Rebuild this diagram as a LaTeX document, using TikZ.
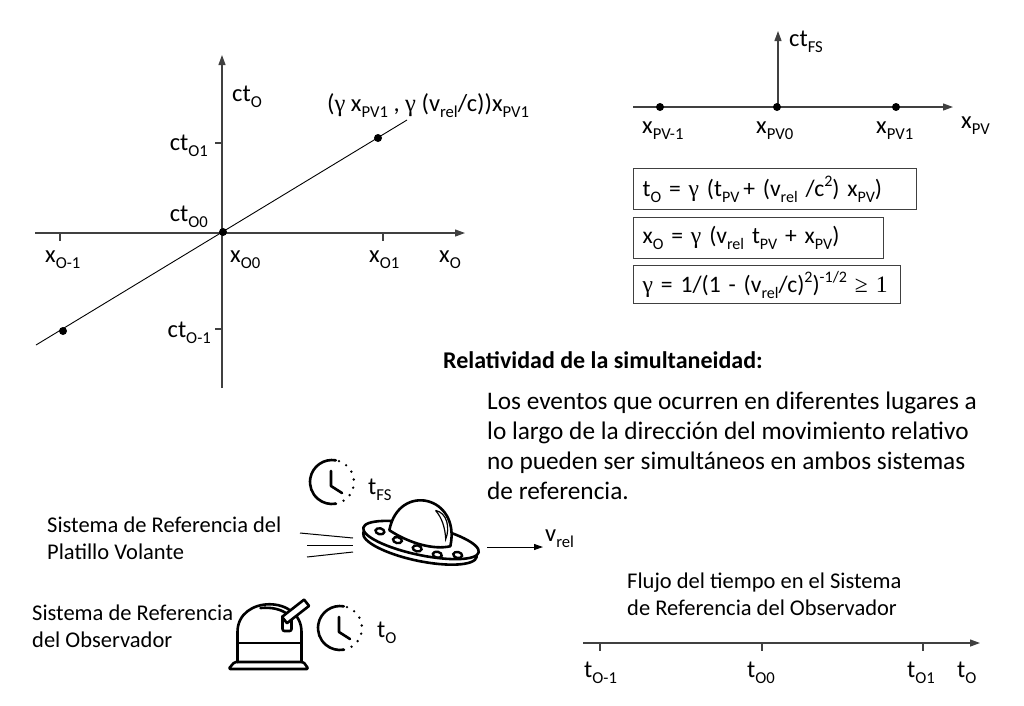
\documentclass[tikz,border=0pt]{standalone}
\usepackage{fontspec}
\setmainfont{Carlito}
\newfontfamily\serifgr{Liberation Serif}
\usepackage{graphicx}
\usetikzlibrary{arrows.meta}
\newcommand\sbs[1]{\raisebox{-0.26em}{\scalebox{0.68}{#1}}}
\newcommand\sps[1]{\raisebox{0.42em}{\scalebox{0.68}{#1}}}
\newcommand\gam{{\serifgr γ}}
\begin{document}
\begin{tikzpicture}[x=1pt,y=-1pt,
  lbl/.style={font=\fontsize{22.5}{26.5}\selectfont, inner sep=0pt},
  axlbl/.style={font=\fontsize{24.5}{28}\selectfont, inner sep=0pt},
  axisln/.style={draw=black!75, line width=1.2pt, -{Triangle[length=10pt,width=7pt]}},
  tickln/.style={draw=black!75, line width=1.2pt},
  dotpt/.style={circle, fill=black, inner sep=0pt, minimum size=8pt},
  eqbox/.style={draw=black!75, line width=1.3pt, anchor=north west, inner xsep=9pt, inner ysep=0pt, align=left, font=\fontsize{23.6}{27}\selectfont},
  icon/.style={line width=2.6pt, line cap=round, line join=round},
  clockpic/.pic={
    \begin{scope}[y=1pt]
      \draw[icon] (80:22) arc[start angle=80, end angle=280, radius=22];
      \draw[icon, dash pattern=on 0pt off 8.3pt] (-80:22) arc[start angle=-80, end angle=80, radius=22];
      \draw[icon] (-1,11) -- (-1,-4) -- (10,-11);
    \end{scope}
  }
]
\useasboundingbox (0,0) rectangle (1024,705);

% ---------- left space-time diagram ----------
\coordinate (xLa) at (35,233);
\coordinate (xLb) at (465,233);
\coordinate (yLa) at (222,388);
\coordinate (yLb) at (222,55);
\coordinate (dLa) at (36,345);
\coordinate (dLb) at (407,120);
\draw[axisln] (xLa) -- (xLb);
\draw[axisln] (yLa) -- (yLb);
\draw[black, line width=0.9pt] (dLa) -- (dLb);
\coordinate (tkxm) at (60,233);
\coordinate (tkx1) at (383,233);
\coordinate (tky1) at (222,143);
\coordinate (tkym) at (222,329);
\draw[tickln] (tkxm) -- ++(0,8);
\draw[tickln] (tkx1) -- ++(0,8);
\draw[tickln] (tky1) -- ++(-7,0);
\draw[tickln] (tkym) -- ++(-7,0);
\node[dotpt] (pm) at (63,331) {};
\node[dotpt] (p0) at (223,232) {};
\node[dotpt] (p1) at (378,138) {};

\node[axlbl, anchor=base west] (ctO) at (232,101) {ct\sbs{O}};
\node[axlbl, anchor=base east] (ctO1) at (208,150) {ct\sbs{O1}};
\node[axlbl, anchor=base east] (ctO0) at (208,221) {ct\sbs{O0}};
\node[axlbl, anchor=base east] (ctOm) at (211,337) {ct\sbs{O-1}};
\node[axlbl, anchor=base west] (xOm) at (45,262) {x\sbs{O-1}};
\node[axlbl, anchor=base west] (xO0) at (230,262) {x\sbs{O0}};
\node[axlbl, anchor=base west] (xO1) at (369,262) {x\sbs{O1}};
\node[axlbl, anchor=base west] (xO) at (439,262) {x\sbs{O}};
\node[axlbl, anchor=base west] (pv1lbl) at (327,111) {(\gam{} x\sbs{PV1} , \gam{} (v\sbs{rel}/c))x\sbs{PV1}};

% ---------- top right flying saucer frame ----------
\coordinate (xRa) at (633,107);
\coordinate (xRb) at (953,107);
\coordinate (yRa) at (778,107);
\coordinate (yRb) at (778,31);
\draw[axisln] (xRa) -- (xRb);
\draw[axisln] (yRa) -- (yRb);
\node[dotpt] (qm) at (660,107) {};
\node[dotpt] (q0) at (777,107) {};
\node[dotpt] (q1) at (896,107) {};
\node[axlbl, anchor=base west] (ctFS) at (789,46) {ct\sbs{FS}};
\node[axlbl, anchor=base west] (xPVm) at (642,133) {x\sbs{PV-1}};
\node[axlbl, anchor=base west] (xPV0) at (756,133) {x\sbs{PV0}};
\node[axlbl, anchor=base west] (xPV1) at (876,133) {x\sbs{PV1}};
\node[axlbl, anchor=base west] (xPV) at (961,128) {x\sbs{PV}};

% ---------- equations ----------
\node[eqbox, text width=265pt, minimum height=41pt] (eq1) at (633,168)
  {t\sbs{O} = \gam{} (t\sbs{PV}\,+ (v\sbs{rel} /c\sps{2}) x\sbs{PV})};
\node[eqbox, text width=232pt, minimum height=41pt] (eq2) at (633,217)
  {x\sbs{O} = \gam{} (v\sbs{rel} t\sbs{PV} + x\sbs{PV})};
\node[eqbox, text width=249pt, minimum height=38pt] (eq3) at (633,265)
  {\gam{} = 1/(1 - (v\sbs{rel}/c)\sps{2})\sps{-1/2} {\serifgr ≥ 1}};

% ---------- explanation ----------
\node[anchor=base west, inner sep=0pt, font=\bfseries\fontsize{24}{29}\selectfont] (head) at (443,368)
  {Relatividad de la simultaneidad:};
\node[anchor=base west, inner sep=0pt, align=left, font=\fontsize{25.3}{30}\selectfont] (para) at (487,499)
  {Los eventos que ocurren en diferentes lugares a\\
   lo largo de la dirección del movimiento relativo\\
   no pueden ser simultáneos en ambos sistemas\\
   de referencia.};

% ---------- flying saucer ----------
\pic (clk1) at (332,482) {clockpic};
\node[axlbl, anchor=base west] (tFS) at (368,494) {t\sbs{FS}};
\node[lbl, anchor=base west, align=left] (ufolbl) at (47,559)
  {Sistema de Referencia del\\Platillo Volante};
\coordinate (s1a) at (300,533); \coordinate (s1b) at (353,538);
\coordinate (s2a) at (307,545); \coordinate (s2b) at (353,545);
\coordinate (s3a) at (307,557); \coordinate (s3b) at (353,552);
\draw[black, line width=1pt] (s1a) -- (s1b);
\draw[black, line width=1pt] (s2a) -- (s2b);
\draw[black, line width=1pt] (s3a) -- (s3b);
\begin{scope}[shift={(421,540)}, rotate=-12, y=1pt]
  \draw[icon, fill=white] (0,-5) ellipse [x radius=58, y radius=16];
  \draw[icon, fill=white] (0,0) ellipse [x radius=59, y radius=15];
  \draw[icon, fill=white] (-33,3) .. controls (-34,52) and (30,52) .. (30,0)
        .. controls (15,-7) and (-10,-6) .. (-33,3);
  \draw[line width=1.2pt, fill=white] (8,32) .. controls (20,32) and (26,18) .. (24,6)
        .. controls (21,17) and (16,26) .. (8,32);
  \foreach \p in {(-42,0),(-23,-5),(-2,-9),(19,-11),(39,-7)}
    \draw[line width=2.4pt] \p ellipse [x radius=4.5, y radius=3];
\end{scope}
\coordinate (va) at (487,547);
\coordinate (vb) at (543,547);
\draw[black, line width=1pt, -{Triangle[length=9pt,width=6pt]}] (va) -- (vb);
\node[axlbl, anchor=base west] (vrel) at (545,541) {v\sbs{rel}};

% ---------- observer ----------
\node[lbl, anchor=base west, align=left] (obslbl) at (32,647)
  {Sistema de Referencia\\del Observador};
\begin{scope}[shift={(269.5,662)}, y=1pt]
  \draw[icon, fill=white] (-32,0) -- (-32,30) .. controls (-32,67) and (32,67) .. (32,30) -- (32,0);
  \draw[icon] (-32,19) -- (32,19);
  \draw[icon, rounded corners=1.5pt] (-35,0) -- (-41,-7) -- (39,-7) -- (34,0) -- cycle;
  \draw[icon] (-9,54) .. controls (2,55) and (12,53) .. (19,47);
  \draw[icon, fill=white, rounded corners=2pt] (13,31) rectangle (22,46);
  \draw[icon, fill=white, rotate around={38:(15,42)}] (15,38) rectangle (43,46);
\end{scope}
\pic (clk2) at (340,628) {clockpic};
\node[axlbl, anchor=base west] (tO) at (377,637) {t\sbs{O}};

% ---------- observer time axis ----------
\node[lbl, anchor=base west, align=left] (flujo) at (627,615)
  {Flujo del tiempo en el Sistema\\de Referencia del Observador};
\coordinate (tA) at (583,643);
\coordinate (tB) at (980,643);
\draw[axisln] (tA) -- (tB);
\coordinate (tk1) at (600,643);
\coordinate (tk2) at (762,643);
\coordinate (tk3) at (923,643);
\draw[tickln] (tk1) -- ++(0,8);
\draw[tickln] (tk2) -- ++(0,8);
\draw[tickln] (tk3) -- ++(0,8);
\node[axlbl, anchor=base west] (tOm) at (584,677) {t\sbs{O-1}};
\node[axlbl, anchor=base west] (tO0) at (747,677) {t\sbs{O0}};
\node[axlbl, anchor=base west] (tO1) at (907,677) {t\sbs{O1}};
\node[axlbl, anchor=base west] (tOax) at (957,677) {t\sbs{O}};
\end{tikzpicture}
\end{document}
